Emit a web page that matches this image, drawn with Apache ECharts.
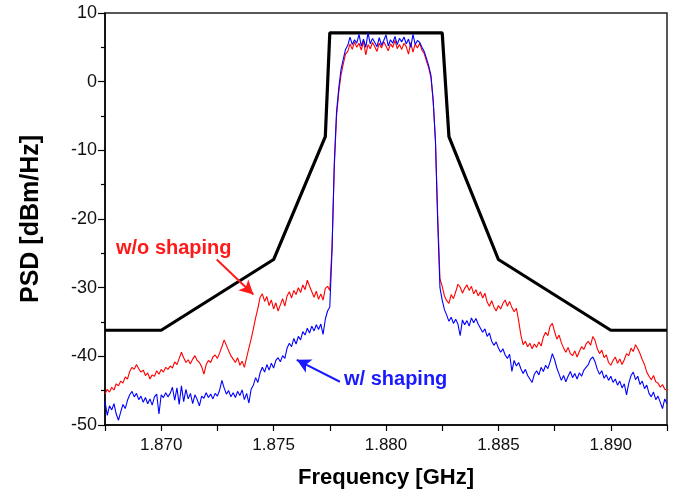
<!DOCTYPE html>
<html>
<head>
<meta charset="utf-8">
<script src="https://cdn.jsdelivr.net/npm/echarts@6/dist/echarts.min.js"></script>
<style>
  html, body { margin: 0; padding: 0; background: #fff; }
  #chart { width: 678px; height: 499px; }
</style>
</head>
<body>
<div id="chart"></div>
<script>
// sweep: 1.8675 .. 1.8925 GHz, one sample every 0.1 MHz
var freqStart = 1.8675;
var freqStep = 0.0001;

// spectrum mask (black)
var maskFreq  = [1.8675, 1.870, 1.875, 1.8773, 1.8775, 1.8825, 1.8828, 1.885, 1.890, 1.8925];
var maskLevel = [-36.2, -36.2, -25.9, -8.0, 7.1, 7.1, -8.0, -25.9, -36.2, -36.2];

// w/o shaping (red)
var psdNoShaping = [
  -45.5,-44.8,-45.2,-44.5,-44.9,-44.0,-44.3,-43.6,-43.9,-43.0,
  -43.3,-42.2,-41.6,-41.9,-41.2,-41.8,-42.3,-42.0,-42.8,-42.4,
  -43.3,-42.7,-42.9,-42.1,-42.6,-41.9,-42.3,-41.6,-41.9,-41.4,
  -41.7,-40.8,-41.2,-40.3,-39.4,-40.2,-40.9,-40.5,-41.1,-40.4,
  -39.9,-40.6,-40.9,-41.5,-42.6,-41.2,-40.6,-40.9,-40.1,-39.8,
  -40.3,-39.5,-38.6,-37.6,-38.4,-39.2,-39.9,-40.4,-40.9,-40.2,
  -41.3,-40.7,-41.6,-40.2,-38.8,-37.5,-36.0,-34.4,-33.0,-31.4,
  -30.9,-32.0,-31.3,-32.6,-31.8,-33.1,-32.2,-33.4,-32.5,-31.6,
  -32.7,-31.2,-30.6,-31.5,-30.4,-31.0,-30.0,-30.7,-29.6,-30.3,
  -28.9,-29.8,-30.6,-31.4,-30.5,-31.7,-30.9,-31.8,-30.1,-29.8,
  -30.4,-24.0,-12.5,-5.0,-1.5,1.0,2.6,4.0,4.4,5.5,
  4.7,5.8,5.0,5.6,4.6,5.9,3.9,5.4,4.8,5.7,
  5.1,4.4,5.6,4.9,5.8,5.2,4.5,5.5,5.0,6.0,
  4.8,5.4,4.7,5.6,5.1,4.0,5.7,4.3,5.5,4.9,
  5.6,4.6,4.1,3.0,2.0,0.6,-3.0,-8.5,-19.5,-28.7,
  -29.8,-31.2,-31.9,-32.3,-31.0,-31.6,-30.6,-29.5,-29.9,-30.8,
  -30.1,-29.6,-30.4,-29.8,-30.9,-30.3,-31.2,-30.6,-31.5,-30.8,
  -32.1,-32.7,-31.9,-32.8,-33.4,-32.6,-33.1,-32.3,-31.8,-32.7,
  -32.0,-32.9,-33.5,-33.0,-34.8,-36.9,-38.3,-37.8,-38.6,-38.1,
  -38.9,-38.2,-38.7,-37.9,-38.5,-37.2,-36.5,-37.0,-35.6,-35.2,
  -36.4,-37.5,-36.9,-38.0,-38.8,-39.4,-38.7,-39.6,-39.9,-39.2,
  -40.1,-39.3,-38.6,-39.0,-38.2,-37.8,-38.4,-37.1,-37.7,-38.9,
  -39.6,-39.1,-40.2,-39.8,-40.9,-41.3,-40.6,-40.1,-41.0,-40.4,
  -41.2,-40.5,-39.6,-39.9,-38.8,-39.3,-38.3,-38.9,-39.6,-40.5,
  -41.2,-42.3,-42.9,-43.4,-42.8,-43.7,-43.9,-44.5,-44.1,-44.8,-44.9
];

// w/ shaping (blue)
var psdShaping = [
  -46.5,-48.6,-47.2,-47.8,-46.9,-48.4,-49.3,-48.1,-47.0,-47.6,
  -46.4,-45.6,-45.1,-45.9,-45.4,-46.3,-45.8,-46.7,-46.0,-46.9,
  -46.2,-47.1,-45.9,-45.5,-48.4,-45.6,-46.0,-45.3,-45.9,-45.4,
  -44.5,-46.4,-44.6,-47.0,-44.3,-46.6,-44.8,-46.2,-45.4,-46.9,
  -45.6,-46.3,-47.2,-45.8,-46.1,-45.3,-46.0,-45.5,-46.2,-45.4,
  -45.8,-44.9,-43.5,-44.6,-45.5,-45.0,-45.9,-45.3,-46.0,-45.1,
  -45.7,-44.9,-46.3,-45.4,-46.8,-44.8,-44.2,-43.1,-43.8,-42.4,
  -41.6,-42.3,-41.2,-42.0,-41.0,-41.7,-40.6,-40.2,-40.8,-39.9,
  -40.3,-38.8,-38.1,-38.6,-37.4,-38.2,-37.1,-37.6,-36.4,-36.9,
  -35.9,-36.6,-35.6,-36.3,-35.4,-36.1,-35.3,-36.8,-34.6,-33.4,
  -32.8,-24.5,-11.8,-4.4,-0.9,1.8,3.3,4.7,5.3,6.5,
  5.4,6.1,5.6,6.9,5.2,6.2,5.0,7.1,5.5,6.3,
  5.7,5.1,6.4,5.3,6.0,6.8,5.2,6.1,5.6,6.6,
  5.4,6.3,5.8,6.5,5.5,6.2,5.0,6.9,5.4,6.0,
  5.7,5.0,4.4,3.4,2.3,0.9,-2.7,-8.8,-20.5,-30.0,
  -31.8,-33.2,-34.0,-34.9,-34.3,-35.2,-34.6,-35.3,-37.0,-34.7,
  -35.4,-34.8,-35.6,-34.4,-35.1,-34.5,-35.3,-35.9,-36.5,-36.0,
  -37.1,-36.6,-37.8,-38.4,-37.9,-38.8,-39.4,-38.9,-39.8,-40.3,
  -39.7,-42.2,-40.6,-41.4,-40.9,-41.8,-42.5,-41.9,-42.8,-43.3,
  -43.8,-42.6,-42.1,-42.7,-41.6,-42.2,-41.3,-41.8,-40.8,-39.6,
  -40.5,-41.7,-42.6,-43.5,-42.8,-43.7,-42.9,-42.2,-43.1,-42.5,
  -43.3,-42.4,-42.9,-42.0,-41.6,-41.2,-40.4,-40.1,-40.8,-41.9,
  -42.6,-42.1,-43.2,-42.7,-43.5,-42.9,-43.8,-43.3,-44.2,-43.6,
  -44.6,-44.0,-45.6,-43.9,-42.8,-42.3,-43.4,-42.9,-44.1,-43.6,
  -44.7,-44.2,-45.4,-45.9,-45.2,-46.3,-45.8,-46.7,-47.6,-46.2,-46.9
];

// annotation arrows: [fromFreq, fromLevel, toFreq, toLevel]
var arrowNoShaping = [1.87247, -25.9, 1.87410, -31.0];
var arrowShaping   = [1.87795, -43.7, 1.87603, -40.5];

function pairs(values) {
  return values.map(function (v, i) {
    return [+(freqStart + i * freqStep).toFixed(4), v];
  });
}

var chart = echarts.init(document.getElementById('chart'), null, { renderer: 'canvas' });

var font = 'Liberation Sans, Arial, sans-serif';

var option = {
  animation: false,
  grid: {
    left: 105,
    right: 11,
    top: 13,
    bottom: 74,
    show: true,
    borderColor: '#222',
    borderWidth: 1.5
  },
  xAxis: {
    type: 'value',
    min: 1.8675,
    max: 1.8925,
    interval: 0.0025,
    name: 'Frequency [GHz]',
    nameLocation: 'middle',
    nameGap: 42,
    nameTextStyle: { fontFamily: font, fontWeight: 'bold', fontSize: 22, color: '#000' },
    axisLine: { onZero: false, lineStyle: { color: '#000', width: 1.5 } },
    axisTick: { inside: false, length: 6, lineStyle: { color: '#000', width: 1.2 } },
    axisLabel: {
      margin: 12,
      fontFamily: font,
      fontSize: 17,
      color: '#111',
      formatter: function (v) {
        var k = Math.round(v / 0.0025);
        return k % 2 === 0 ? v.toFixed(3) : '';
      }
    },
    splitLine: { show: false }
  },
  yAxis: {
    type: 'value',
    min: -50,
    max: 10,
    interval: 10,
    name: 'PSD [dBm/Hz]',
    nameLocation: 'middle',
    nameGap: 61,
    nameTextStyle: { fontFamily: font, fontWeight: 'bold', fontSize: 25, color: '#000' },
    axisLine: { show: true, onZero: false, lineStyle: { color: '#000', width: 1.5 } },
    axisTick: { show: true, inside: false, length: 7, lineStyle: { color: '#000', width: 1.2 } },
    minorTick: { show: true, splitNumber: 2, length: 4, lineStyle: { color: '#000', width: 1.2 } },
    axisLabel: { margin: 8, fontFamily: font, fontSize: 18, color: '#111' },
    splitLine: { show: false }
  },
  series: [
    {
      name: 'mask',
      type: 'line',
      data: maskFreq.map(function (f, i) { return [f, maskLevel[i]]; }),
      symbol: 'none',
      lineStyle: { color: '#000', width: 3.2 },
      z: 2
    },
    {
      name: 'w/o shaping',
      type: 'line',
      data: pairs(psdNoShaping),
      symbol: 'none',
      lineStyle: { color: '#ff0000', width: 1.1 },
      z: 3,
      markLine: {
        silent: true,
        symbol: ['none', 'arrow'],
        symbolSize: [11, 14],
        label: { show: false },
        lineStyle: { color: '#ff1a1a', width: 2, type: 'solid' },
        data: [[
          { coord: [arrowNoShaping[0], arrowNoShaping[1]] },
          { coord: [arrowNoShaping[2], arrowNoShaping[3]] }
        ]]
      }
    },
    {
      name: 'w/ shaping',
      type: 'line',
      data: pairs(psdShaping),
      symbol: 'none',
      lineStyle: { color: '#0000ff', width: 1.1 },
      z: 4,
      markLine: {
        silent: true,
        symbol: ['none', 'arrow'],
        symbolSize: [11, 14],
        label: { show: false },
        lineStyle: { color: '#1a1aff', width: 2, type: 'solid' },
        data: [[
          { coord: [arrowShaping[0], arrowShaping[1]] },
          { coord: [arrowShaping[2], arrowShaping[3]] }
        ]]
      }
    }
  ],
  graphic: [
    {
      type: 'text',
      left: 116,
      top: 238,
      style: { text: 'w/o shaping', fill: '#ff1a1a', font: 'bold 20px ' + font }
    },
    {
      type: 'text',
      left: 344,
      top: 369,
      style: { text: 'w/ shaping', fill: '#1a1aff', font: 'bold 20px ' + font }
    }
  ]
};

chart.setOption(option);
</script>
</body>
</html>
